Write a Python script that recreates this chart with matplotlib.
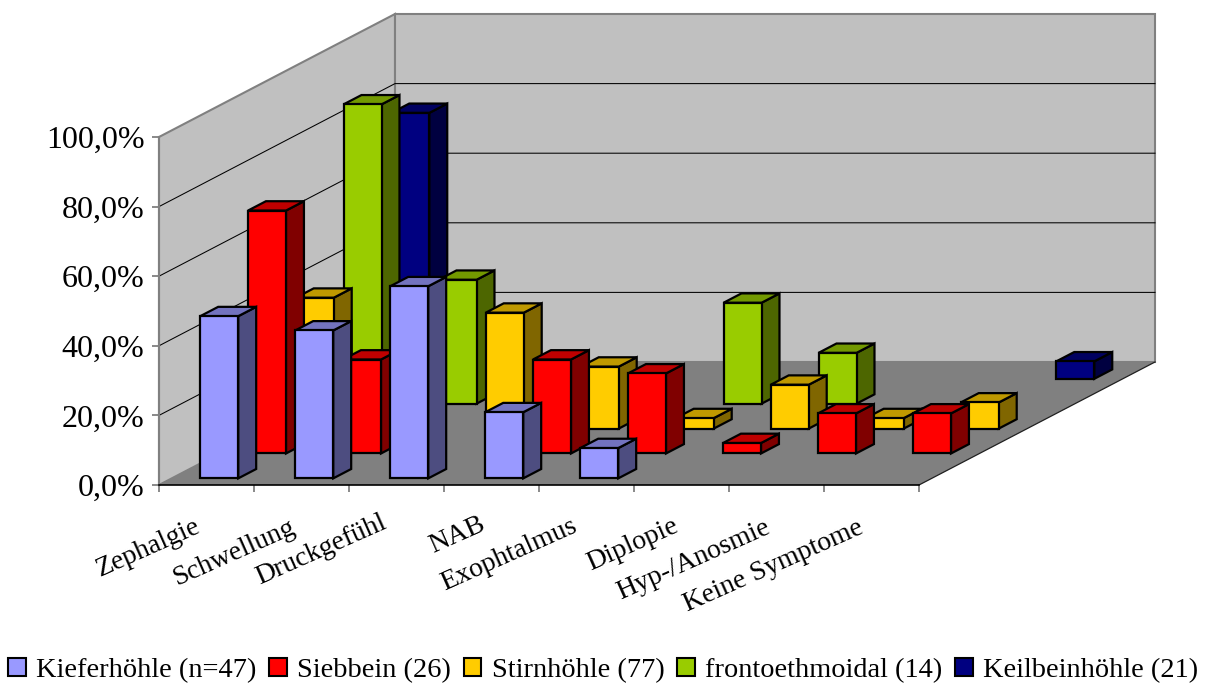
import matplotlib
matplotlib.use("Agg")
import matplotlib.pyplot as plt
from matplotlib.patches import Polygon, Patch
from matplotlib.ticker import FuncFormatter

categories = ["Zephalgie", "Schwellung", "Druckgefühl", "NAB", "Exophtalmus",
              "Diplopie", "Hyp-/Anosmie", "Keine Symptome"]
series_names = ["Kieferhöhle (n=47)", "Siebbein (26)", "Stirnhöhle (77)",
                "frontoethmoidal (14)", "Keilbeinhöhle (21)"]
kiefer = [46.6, 42.5, 55.2, 19.0, 8.7, 0, 0, 0]
siebbein = [69.8, 27.0, 0, 27.0, 23.0, 3.0, 11.5, 11.5]
stirn = [37.6, 0, 33.3, 17.8, 3.0, 12.6, 3.0, 7.5]
fronto = [86.0, 35.6, 0, 0, 29.0, 14.6, 0, 0]
keil = [76.4, 0, 0, 0, 0, 0, 0, 5.0]
series_values = [kiefer, siebbein, stirn, fronto, keil]
front_colors = ["#9999FF", "#FF0000", "#FFCC00", "#99CC00", "#000080"]
top_colors = ["#7373BF", "#BF0000", "#BF9900", "#739900", "#000060"]
side_colors = ["#4D4D80", "#800000", "#806600", "#4D6600", "#000040"]

W, H = 1208, 686
PX_X = 95.0          # pixels per category
PX_Y = 3.48          # pixels per percent
X0, Y0 = 159, 485    # pixel of category 0 / 0 %
DX = 47.2 / PX_X     # shear of one series slot, in category units
DY = 24.6 / PX_Y     # shear of one series slot, in percent units
NC, NS = len(categories), len(series_names)

plt.rcParams["font.family"] = ["Liberation Serif", "DejaVu Serif"]
fig = plt.figure(figsize=(W / 100, H / 100), dpi=100)
ax = fig.add_axes([0, 0, 1, 1])
ax.set_xlim(-X0 / PX_X, (W - X0) / PX_X)
ax.set_ylim(-(H - Y0) / PX_Y, Y0 / PX_Y)
ax.patch.set_visible(False)


def proj(c, v, d):
    return (c + d * DX, v + d * DY)


def poly(pts, fc, ec="black", lw=1.6, z=1):
    ax.add_patch(Polygon(pts, closed=True, facecolor=fc, edgecolor=ec,
                         linewidth=lw, joinstyle="miter", zorder=z))


# walls and floor
poly([proj(0, 0, 0), proj(0, 100, 0), proj(0, 100, NS), proj(0, 0, NS)], "#C0C0C0", "#808080", 1.5, 1)
poly([proj(0, 0, NS), proj(0, 100, NS), proj(NC, 100, NS), proj(NC, 0, NS)], "#C0C0C0", "#808080", 1.5, 1)
poly([proj(0, 0, 0), proj(NC, 0, 0), proj(NC, 0, NS), proj(0, 0, NS)], "#808080", "none", 0, 1.1)
for v in range(20, 100, 20):
    pts = [proj(0, v, 0), proj(0, v, NS), proj(NC, v, NS)]
    ax.plot(*zip(*pts), color="black", lw=0.75, zorder=1.2)
ax.plot(*zip(proj(NC, 0, 0), proj(NC, 0, NS)), color="#202020", lw=0.9, zorder=1.2)

# bars, back to front
z = 3.0
for s in range(NS - 1, -1, -1):
    for c in range(NC):
        v = series_values[s][c]
        if v <= 0:
            continue
        l, r = c + 0.30, c + 0.70
        f, b = s * 1.012 + 0.27, s * 1.012 + 0.65
        poly([proj(r, 0, f), proj(r, 0, b), proj(r, v, b), proj(r, v, f)], side_colors[s], z=z)
        poly([proj(l, v, f), proj(r, v, f), proj(r, v, b), proj(l, v, b)], top_colors[s], z=z)
        poly([proj(l, 0, f), proj(r, 0, f), proj(r, v, f), proj(l, v, f)], front_colors[s], z=z)
        z += 0.01

# axes
for name in ("top", "right"):
    ax.spines[name].set_visible(False)
ax.spines["left"].set_position(("data", 0))
ax.spines["left"].set_bounds(0, 100)
ax.spines["left"].set_color("#808080")
ax.spines["left"].set_linewidth(1.5)
ax.spines["bottom"].set_position(("data", 0))
ax.spines["bottom"].set_bounds(0, NC)
ax.spines["bottom"].set_color("black")
ax.spines["bottom"].set_linewidth(1.2)
ax.set_yticks(range(0, 101, 20))
ax.yaxis.set_major_formatter(FuncFormatter(lambda v, _: f"{v:.1f}%".replace(".", ",")))
ax.tick_params(axis="y", length=5, width=1.3, color="#808080", pad=5.5, labelsize=23, labelcolor="black")
ax.set_xticks(range(NC + 1))
ax.set_xticklabels([])
ax.tick_params(axis="x", length=5, width=1.3, color="#808080")

# category labels: upper right end of each rotated label, in pixels
label_ends = [(201, 518), (296, 519), (387, 514), (486, 516),
              (578, 518), (679, 518), (771, 519), (864, 519)]
for name, (px, py) in zip(categories, label_ends):
    ax.text(px - 7, H - (py - 4), name, transform=None, rotation=24, rotation_mode="anchor",
            ha="right", va="top", fontsize=20, color="black")
# transform=None above means display pixels, at dpi 100 the figure is W x H

handles = [Patch(facecolor=c, edgecolor="black", linewidth=1.5) for c in front_colors]
fig.legend(handles, series_names, loc="lower center", bbox_to_anchor=(0.4992, -0.004), ncol=NS,
           frameon=False, fontsize=20.4, handlelength=0.63, handleheight=0.63,
           handletextpad=0.36, columnspacing=0.45, borderpad=0.1, borderaxespad=0.1)

fig.savefig("out.png", dpi=100)
